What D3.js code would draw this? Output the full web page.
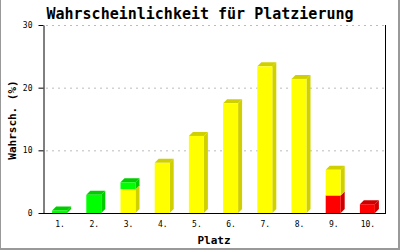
<!DOCTYPE html>
<html>
<head>
<meta charset="utf-8">
<script src="https://cdn.jsdelivr.net/npm/d3@7"></script>
<style>
  html, body { margin: 0; padding: 0; background: #fff; }
  svg { display: block; }
  text { font-family: "DejaVu Sans Mono", "Liberation Mono", monospace; }
</style>
</head>
<body>
<script>
const places = ["1.", "2.", "3.", "4.", "5.", "6.", "7.", "8.", "9.", "10."];
const greenVals  = [0.4, 2.9, 1.1, 0, 0, 0, 0, 0, 0, 0];
const yellowVals = [0, 0, 3.8, 8.0, 12.3, 17.5, 23.4, 21.4, 4.1, 0];
const redVals    = [0, 0, 0, 0, 0, 0, 0, 0, 2.8, 1.4];
const yTicks = [0, 10, 20, 30];
const titleText = "Wahrscheinlichkeit für Platzierung";
const xTitle = "Platz";
const yTitle = "Wahrsch. (%)";

(function () {
const W = 400, H = 250;
const colors = {
  red:    { front: "#ff0000", dark: "#cc0000" },
  yellow: { front: "#ffff00", dark: "#d0d000" },
  green:  { front: "#00ff00", dark: "#00cc00" }
};

const rows = places.map((p, i) => ({ place: p, red: redVals[i], yellow: yellowVals[i], green: greenVals[i] }));
const keys = ["red", "yellow", "green"];
const series = d3.stack().keys(keys)(rows);

const svg = d3.select("body").append("svg").attr("width", W).attr("height", H);

const pLeft = 43, pRight = 385, pTop = 25, pBottom = 213;
const x = d3.scaleBand().domain(places).range([pLeft, pRight]);
const y = d3.scaleLinear().domain([0, 30]).range([pBottom, pTop]);

// frame
svg.append("rect").attr("x", 0).attr("y", 0).attr("width", 1).attr("height", H).attr("fill", "#999");
svg.append("rect").attr("x", W - 2).attr("y", 0).attr("width", 2).attr("height", H).attr("fill", "#999");
svg.append("rect").attr("x", 0).attr("y", H - 2).attr("width", W).attr("height", 2).attr("fill", "#999");

// grid
svg.append("g").selectAll("line").data(yTicks.filter(d => d > 0)).join("line")
  .attr("x1", pLeft + 3).attr("x2", pRight)
  .attr("y1", d => y(d) + 0.5).attr("y2", d => y(d) + 0.5)
  .attr("stroke", "#bbb").attr("stroke-width", 1).attr("stroke-dasharray", "2,4");

// bars
const fw = 15, depth = 4;
const barG = svg.append("g");
series.forEach((s, si) => {
  const k = s.key;
  s.forEach((d, i) => {
    const v = d[1] - d[0];
    if (v <= 0) return;
    const cx = x(places[i]) + x.bandwidth() / 2;
    const x0 = cx - 8, x1 = x0 + fw;
    const yb = y(d[0]), yt = y(d[1]);
    barG.append("polygon")
      .attr("points", [[x1, yb], [x1 + depth, yb - depth], [x1 + depth, yt - depth], [x1, yt]].join(" "))
      .attr("fill", colors[k].dark);
    const isTop = keys.slice(si + 1).every(kk => rows[i][kk] <= 0);
    if (isTop) {
      barG.append("polygon")
        .attr("points", [[x0, yt], [x0 + depth, yt - depth], [x1 + depth, yt - depth], [x1, yt]].join(" "))
        .attr("fill", colors[k].dark);
    }
    barG.append("rect")
      .attr("x", x0).attr("y", yt).attr("width", fw).attr("height", yb - yt)
      .attr("fill", colors[k].front);
  });
});

// axes
const yAxis = d3.axisLeft(y).tickValues(yTicks).tickSize(5).tickSizeOuter(0).tickPadding(6);
const yg = svg.append("g").attr("transform", `translate(${pLeft + 0.5},0)`).call(yAxis);
yg.select(".domain").attr("stroke", "#000");
yg.selectAll(".tick line").attr("stroke", "#000");
yg.selectAll(".tick text").attr("font-size", 8).attr("fill", "#000");

svg.append("line").attr("x1", pRight + 0.5).attr("x2", pRight + 0.5).attr("y1", pTop).attr("y2", pBottom + 1)
  .attr("stroke", "#000");
svg.append("line").attr("x1", pLeft).attr("x2", pRight + 1).attr("y1", pBottom + 0.5).attr("y2", pBottom + 0.5)
  .attr("stroke", "#000");

const xAxis = d3.axisBottom(x).tickSize(0).tickPadding(8);
const xg = svg.append("g").attr("transform", `translate(0,${pBottom})`).call(xAxis);
xg.select(".domain").remove();
xg.selectAll(".tick text").attr("font-size", 8).attr("fill", "#000");

// titles
svg.append("text").attr("x", 200).attr("y", 19).attr("text-anchor", "middle")
  .attr("font-size", 15).attr("font-weight", "bold").text(titleText);
svg.append("text").attr("x", 214).attr("y", 244).attr("text-anchor", "middle")
  .attr("font-size", 11).attr("font-weight", "bold").text(xTitle);
svg.append("text").attr("transform", "translate(16,120) rotate(-90)").attr("text-anchor", "middle")
  .attr("font-size", 11).attr("font-weight", "bold").text(yTitle);
})();
</script>
</body>
</html>
